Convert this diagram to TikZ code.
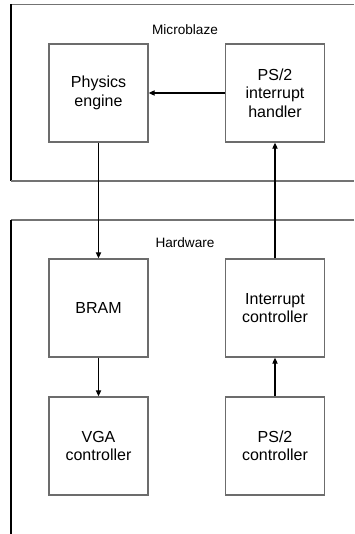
\documentclass[tikz,border=0pt]{standalone}
\usepackage{fontspec}
\setmainfont{Liberation Sans}
\usetikzlibrary{arrows.meta}
\tikzset{blk/.style={draw=gray!85!black,line width=1.1pt,minimum width=74.25pt,minimum height=73.5pt,align=center,font=\fontsize{12}{13.8}\selectfont,inner sep=0pt},
  lbl/.style={font=\fontsize{10.2}{12}\selectfont,inner sep=0pt},
  arr/.style={-{Triangle[length=4.5pt,width=4pt]},line width=.8pt},
  frm/.style={gray!90!black,line width=1.1pt}}

\begin{document}
\begin{tikzpicture}[x=.75pt,y=-.75pt]
\useasboundingbox(0,0)rectangle(354,534);
% Microblaze
\draw[frm](354,4.5)--(11,4.5);\draw[line width=.8pt](11,4.5)--(11,181);\draw[frm](11,181)--(354,181);
\node[lbl](mb)at(185,30){Microblaze};
\node[blk](phys)at(98.5,93){Physics\\engine};
\node[blk](hndl)at(275,93){PS/2\\interrupt\\handler};
% Hardware
\draw[frm](354,220)--(11,220);\draw[line width=.8pt](11,220)--(11,534);
\node[lbl](hw)at(185,243){Hardware};
\node[blk](bram)at(98.5,308){BRAM};
\node[blk](intc)at(275,308){Interrupt\\controller};
\node[blk](vga)at(98.5,446){VGA\\controller};
\node[blk](ps2c)at(275,446){PS/2\\controller};
% links
\draw[arr](hndl)--(phys);\draw[arr](phys)--(bram);\draw[arr](bram)--(vga);
\draw[arr](intc)--(hndl);\draw[arr](ps2c)--(intc);
\end{tikzpicture}
\end{document}
